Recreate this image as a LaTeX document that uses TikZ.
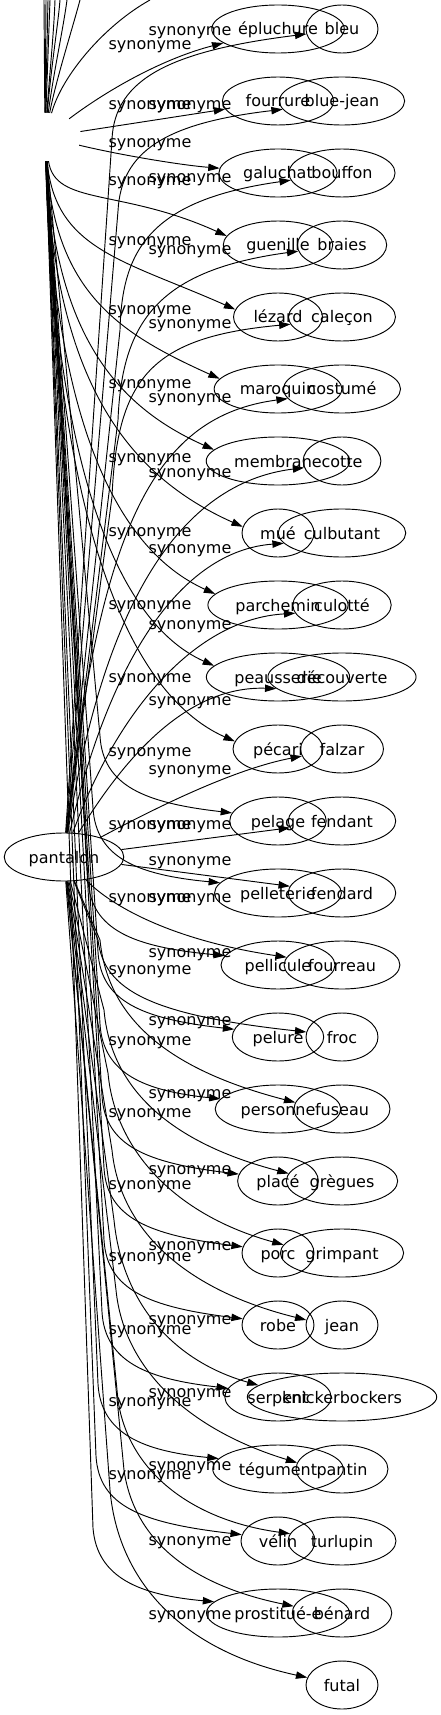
\documentclass[tikz,border=0pt]{standalone}
\usepackage{fontspec}
\setmainfont{DejaVu Sans}
\usetikzlibrary{arrows.meta, shapes.geometric}

\begin{document}
\begin{tikzpicture}[
  x=0.75pt, y=-0.75pt,
  word/.style={draw, ellipse, line width=0.7pt, minimum width=54pt, minimum height=36pt, inner sep=5.25pt, text height=9.6pt, text depth=0.6pt, font=\fontsize{12pt}{14pt}\selectfont},
  lbl/.style={inner sep=0pt, font=\fontsize{12pt}{14pt}\selectfont},
  syn/.style={line width=0.7pt, -{Triangle[length=8.5pt, width=5.5pt]}},
  cut/.style={line width=0.7pt}
]
  \fill[white] (0,0) rectangle (440,1715);
  \useasboundingbox (0,0) rectangle (440,1715);

  \node[word] (pantalon) at (64,857) {pantalon};
  \node[ellipse, minimum width=54pt, minimum height=36pt] (hub) at (45,137) {};

  \node[word] (epluchure) at (278,29) {épluchure};
  \node[word] (fourrure) at (278,101) {fourrure};
  \node[word] (galuchat) at (278,173) {galuchat};
  \node[word] (guenille) at (278,245) {guenille};
  \node[word] (lezard) at (278,317) {lézard};
  \node[word] (maroquin) at (278,389) {maroquin};
  \node[word] (membrane) at (278,461) {membrane};
  \node[word] (mue) at (278,533) {mué};
  \node[word] (parchemin) at (278,605) {parchemin};
  \node[word] (peausserie) at (278,677) {peausserie};
  \node[word] (pecari) at (278,749) {pécari};
  \node[word] (pelage) at (278,821) {pelage};
  \node[word] (pelleterie) at (278,893) {pelleterie};
  \node[word] (pellicule) at (278,965) {pellicule};
  \node[word] (pelure) at (278,1037) {pelure};
  \node[word] (personne) at (278,1109) {personne};
  \node[word] (place) at (278,1181) {placé};
  \node[word] (porc) at (278,1253) {porc};
  \node[word] (robe) at (278,1325) {robe};
  \node[word] (serpent) at (278,1397) {serpent};
  \node[word] (tegument) at (278,1469) {tégument};
  \node[word] (velin) at (278,1541) {vélin};
  \node[word] (prostituee) at (278,1613) {prostitué-e};

  \node[word] (bleu) at (342,29) {bleu};
  \node[word] (bluejean) at (342,101) {blue-jean};
  \node[word] (bouffon) at (342,173) {bouffon};
  \node[word] (braies) at (342,245) {braies};
  \node[word] (calecon) at (342,317) {caleçon};
  \node[word] (costume) at (342,389) {costumé};
  \node[word] (cotte) at (342,461) {cotte};
  \node[word] (culbutant) at (342,533) {culbutant};
  \node[word] (culotte) at (342,605) {culotté};
  \node[word] (decouverte) at (342,677) {découverte};
  \node[word] (falzar) at (342,749) {falzar};
  \node[word] (fendant) at (342,821) {fendant};
  \node[word] (fendard) at (342,893) {fendard};
  \node[word] (fourreau) at (342,965) {fourreau};
  \node[word] (froc) at (342,1037) {froc};
  \node[word] (fuseau) at (342,1109) {fuseau};
  \node[word] (gregues) at (342,1181) {grègues};
  \node[word] (grimpant) at (342,1253) {grimpant};
  \node[word] (jean) at (342,1325) {jean};
  \node[word] (knickerbockers) at (342,1397) {knickerbockers};
  \node[word] (pantin) at (342,1469) {pantin};
  \node[word] (turlupin) at (342,1541) {turlupin};
  \node[word] (benard) at (342,1613) {bénard};
  \node[word] (futal) at (342,1685) {futal};

  \coordinate (up1) at (44,0);
  \coordinate (up2) at (46,0);
  \coordinate (up3) at (48,0);
  \coordinate (up4) at (50,0);
  \coordinate (up5) at (55,0);
  \coordinate (up6) at (60,0);
  \coordinate (up7) at (67,0);
  \coordinate (up8) at (80,0);
  \coordinate (up9) at (150,0);

  \draw[cut] (hub) -- (up1);
  \draw[cut] (hub) -- (up2);
  \draw[cut] (hub) -- (up3);
  \draw[cut] (hub) -- (up4);
  \draw[cut] (hub) .. controls (50,70) and (54,30) .. (up5);
  \draw[cut] (hub) .. controls (52,60) and (58,25) .. (up6);
  \draw[cut] (hub) .. controls (54,70) and (63,30) .. (up7);
  \draw[cut] (hub) .. controls (56,80) and (72,30) .. (up8);
  \draw[cut] (hub) .. controls (62,75) and (105,25) .. (up9);

  \draw[syn] (hub) .. controls (110,88) and (165,58) .. (epluchure);
  \draw[syn] (hub) -- (fourrure);
  \draw[syn] (hub) .. controls (120,155) and (180,165) .. (galuchat);
  \draw[syn] (hub) .. controls (55,206) and (121,188) .. (guenille.170);
  \draw[syn] (hub) .. controls (55,250) and (124,260) .. (lezard.170);
  \draw[syn] (hub) .. controls (55,292) and (118,333) .. (maroquin.170);
  \draw[syn] (hub) .. controls (55,334) and (116,406) .. (membrane.170);
  \draw[syn] (hub) .. controls (55,381) and (127,475) .. (mue.170);
  \draw[syn] (hub) .. controls (55,421) and (116,549) .. (parchemin.170);
  \draw[syn] (hub) .. controls (55,464) and (116,622) .. (peausserie.170);
  \draw[syn] (hub) .. controls (55,509) and (124,692) .. (pecari.170);
  \draw[syn] (hub) -- (100,736) .. controls (103,786) and (145,803) .. (pelage.170);
  \draw[syn] (hub) -- (93,808) .. controls (96,858) and (138,875) .. (pelleterie.170);
  \draw[syn] (hub) -- (88,880) .. controls (91,930) and (133,947) .. (pellicule.170);
  \draw[syn] (hub) -- (98,952) .. controls (101,1002) and (143,1019) .. (pelure.170);
  \draw[syn] (hub) -- (100,1024) .. controls (103,1074) and (145,1091) .. (personne.170);
  \draw[syn] (hub) -- (102,1096) .. controls (105,1146) and (147,1163) .. (place.170);
  \draw[syn] (hub) -- (104,1168) .. controls (107,1218) and (149,1235) .. (porc.170);
  \draw[syn] (hub) -- (104,1240) .. controls (107,1290) and (149,1307) .. (robe.170);
  \draw[syn] (hub) -- (102,1312) .. controls (105,1362) and (147,1379) .. (serpent.170);
  \draw[syn] (hub) -- (98,1384) .. controls (101,1434) and (143,1451) .. (tegument.170);
  \draw[syn] (hub) -- (96,1456) .. controls (99,1506) and (141,1523) .. (velin.170);
  \draw[syn] (hub) -- (93,1528) .. controls (97,1578) and (140,1595) .. (prostituee.170);

  \draw[syn] (pantalon) -- (112,139) .. controls (115,79) and (170,51) .. (bleu.188);
  \draw[syn] (pantalon) -- (118,211) .. controls (121,151) and (166,123) .. (bluejean.188);
  \draw[syn] (pantalon) -- (120,330) .. controls (122,250) and (150,200) .. (bouffon.188);
  \draw[syn] (pantalon) -- (118,420) .. controls (122,320) and (160,270) .. (braies.188);
  \draw[syn] (pantalon) -- (112,497) .. controls (117,377) and (152,337) .. (calecon.188);
  \draw[syn] (pantalon) .. controls (100,522) and (156,416) .. (costume.190);
  \draw[syn] (pantalon) .. controls (104,603) and (180,483) .. (cotte.190);
  \draw[syn] (pantalon) .. controls (110,659) and (181,551) .. (culbutant.190);
  \draw[syn] (pantalon) .. controls (118,708) and (197,619) .. (culotte.190);
  \draw[syn] (pantalon) .. controls (130,748) and (192,686) .. (decouverte.190);
  \draw[syn] (pantalon) .. controls (170,800) and (240,768) .. (falzar.190);
  \draw[syn] (pantalon) -- (fendant);
  \draw[syn] (pantalon) -- (fendard);
  \draw[syn] (pantalon) .. controls (110,905) and (170,940) .. (fourreau.172);
  \draw[syn] (pantalon) -- (98,940) .. controls (104,990) and (150,1015) .. (froc.172);
  \draw[syn] (pantalon) -- (100,940) .. controls (108,1020) and (170,1070) .. (fuseau.172);
  \draw[syn] (pantalon) -- (104,1010) .. controls (111,1090) and (172,1143) .. (gregues.172);
  \draw[syn] (pantalon) -- (108,1073) .. controls (115,1150) and (175,1215) .. (grimpant.172);
  \draw[syn] (pantalon) -- (112,1150) .. controls (120,1230) and (185,1290) .. (jean.172);
  \draw[syn] (pantalon) -- (114,1220) .. controls (122,1300) and (170,1360) .. (knickerbockers.172);
  \draw[syn] (pantalon) -- (116,1290) .. controls (124,1370) and (190,1430) .. (pantin.172);
  \draw[syn] (pantalon) -- (118,1400) .. controls (128,1470) and (190,1520) .. (turlupin.172);
  \draw[syn] (pantalon) -- (124,1470) .. controls (134,1540) and (190,1585) .. (benard.172);
  \draw[syn] (pantalon) -- (110,1490) .. controls (118,1580) and (180,1650) .. (futal);

  \node[lbl] (lab1) at (190,33) {synonyme};
  \node[lbl] (lab2) at (150,47) {synonyme};
  \node[lbl] (lab3) at (150,107) {synonyme};
  \node[lbl] (lab4) at (190,107) {synonyme};
  \node[lbl] (lab5) at (150,145) {synonyme};
  \node[lbl] (lab6) at (150,183) {synonyme};
  \node[lbl] (lab7) at (190,180) {synonyme};
  \node[lbl] (lab8) at (150,243) {synonyme};
  \node[lbl] (lab9) at (190,252) {synonyme};
  \node[lbl] (lab10) at (150,312) {synonyme};
  \node[lbl] (lab11) at (190,326) {synonyme};
  \node[lbl] (lab12) at (150,386) {synonyme};
  \node[lbl] (lab13) at (190,400) {synonyme};
  \node[lbl] (lab14) at (150,460) {synonyme};
  \node[lbl] (lab15) at (190,475) {synonyme};
  \node[lbl] (lab16) at (150,534) {synonyme};
  \node[lbl] (lab17) at (190,551) {synonyme};
  \node[lbl] (lab18) at (150,607) {synonyme};
  \node[lbl] (lab19) at (190,627) {synonyme};
  \node[lbl] (lab20) at (150,680) {synonyme};
  \node[lbl] (lab21) at (190,703) {synonyme};
  \node[lbl] (lab22) at (150,754) {synonyme};
  \node[lbl] (lab23) at (190,772) {synonyme};
  \node[lbl] (lab24) at (150,827) {synonyme};
  \node[lbl] (lab25) at (190,827) {synonyme};
  \node[lbl] (lab26) at (190,863) {synonyme};
  \node[lbl] (lab27) at (150,900) {synonyme};
  \node[lbl] (lab28) at (190,900) {synonyme};
  \node[lbl] (lab29) at (190,955) {synonyme};
  \node[lbl] (lab30) at (150,972) {synonyme};
  \node[lbl] (lab31) at (190,1023) {synonyme};
  \node[lbl] (lab32) at (150,1043) {synonyme};
  \node[lbl] (lab33) at (190,1096) {synonyme};
  \node[lbl] (lab34) at (150,1115) {synonyme};
  \node[lbl] (lab35) at (190,1172) {synonyme};
  \node[lbl] (lab36) at (150,1187) {synonyme};
  \node[lbl] (lab37) at (190,1248) {synonyme};
  \node[lbl] (lab38) at (150,1259) {synonyme};
  \node[lbl] (lab39) at (190,1322) {synonyme};
  \node[lbl] (lab40) at (150,1332) {synonyme};
  \node[lbl] (lab41) at (190,1395) {synonyme};
  \node[lbl] (lab42) at (150,1404) {synonyme};
  \node[lbl] (lab43) at (190,1468) {synonyme};
  \node[lbl] (lab44) at (150,1477) {synonyme};
  \node[lbl] (lab45) at (190,1543) {synonyme};
  \node[lbl] (lab46) at (190,1617) {synonyme};
\end{tikzpicture}
\end{document}
